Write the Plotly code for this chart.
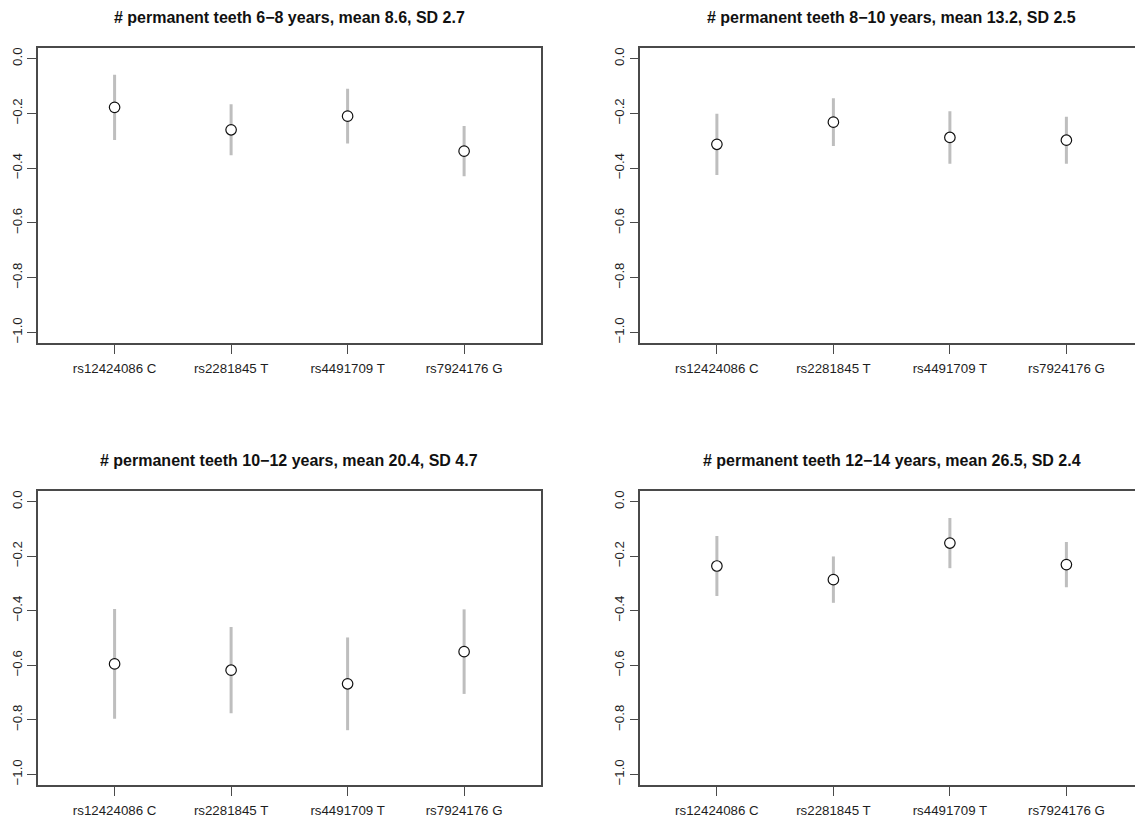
import plotly.graph_objects as go

# ---- data ----
snps = ["rs12424086 C", "rs2281845 T", "rs4491709 T", "rs7924176 G"]
snp_pos = [1, 2, 3, 4]

titles = [
    "# permanent teeth 6\u22128 years, mean 8.6, SD 2.7",
    "# permanent teeth 8\u221210 years, mean 13.2, SD 2.5",
    "# permanent teeth 10\u221212 years, mean 20.4, SD 4.7",
    "# permanent teeth 12\u221214 years, mean 26.5, SD 2.4",
]

est_6_8 = [-0.178, -0.260, -0.210, -0.338]
ci_6_8 = [0.119, 0.093, 0.100, 0.092]

est_8_10 = [-0.313, -0.232, -0.288, -0.298]
ci_8_10 = [0.112, 0.087, 0.096, 0.086]

est_10_12 = [-0.595, -0.618, -0.668, -0.550]
ci_10_12 = [0.201, 0.158, 0.170, 0.155]

est_12_14 = [-0.236, -0.286, -0.152, -0.231]
ci_12_14 = [0.110, 0.085, 0.092, 0.083]

y_ticks = [-1.0, -0.8, -0.6, -0.4, -0.2, 0.0]
y_tick_text = ["\u22121.0", "\u22120.8", "\u22120.6", "\u22120.4", "\u22120.2", "0.0"]

# ---- layout geometry (pixels) ----
W, H = 1135, 822
left_px = (37.7, 541.0)
right_px = (640.0, 1135.0)
top_px = (47.7, 343.3)
bot_px = (490.7, 785.3)

def xd(p):
    return [p[0] / W, p[1] / W]

def yd(p):
    return [1 - p[1] / H, 1 - p[0] / H]

panels = [
    (est_6_8, ci_6_8, left_px, top_px, [0.34, 4.66], True),
    (est_8_10, ci_8_10, right_px, top_px, [0.34, 0.34 + (right_px[1] - right_px[0]) / 116.5], False),
    (est_10_12, ci_10_12, left_px, bot_px, [0.34, 4.66], True),
    (est_12_14, ci_12_14, right_px, bot_px, [0.34, 0.34 + (right_px[1] - right_px[0]) / 116.5], False),
]

fig = go.Figure()
line_col = "#4a4a4a"
tick_font = dict(family="Liberation Sans, Arial, sans-serif", size=13.3, color="#1e1e1e")

layout_axes = {}
annotations = []
for i, (est, ci, xp, yp, xr, mirror_y) in enumerate(panels, start=1):
    xa = "x" if i == 1 else f"x{i}"
    ya = "y" if i == 1 else f"y{i}"
    fig.add_trace(go.Scatter(
        x=snp_pos, y=est, xaxis=xa, yaxis=ya, mode="markers",
        marker=dict(symbol="circle", size=10.5, color="white",
                    line=dict(color="#111111", width=1.2)),
        error_y=dict(type="data", array=ci, symmetric=True,
                     color="#bebebe", thickness=3, width=0),
        showlegend=False, hoverinfo="skip",
    ))
    layout_axes["xaxis" if i == 1 else f"xaxis{i}"] = dict(
        domain=xd(xp), range=xr, anchor=ya,
        tickvals=snp_pos, ticktext=snps, ticks="outside", ticklen=9,
        tickcolor=line_col, tickwidth=1.2, ticklabelstandoff=3,
        showline=True, linecolor=line_col, linewidth=1.5, mirror=True,
        showgrid=False, zeroline=False, tickfont=tick_font, fixedrange=True,
    )
    layout_axes["yaxis" if i == 1 else f"yaxis{i}"] = dict(
        domain=yd(yp), range=[-1.04, 0.04], anchor=xa,
        tickvals=y_ticks, ticktext=y_tick_text, tickangle=-90,
        ticks="outside", ticklen=8.5, tickcolor=line_col, tickwidth=1.2,
        showline=True, linecolor=line_col, linewidth=1.5, mirror=mirror_y,
        showgrid=False, zeroline=False, tickfont=tick_font, fixedrange=True,
    )
    # title centred over the (possibly clipped) R plot box
    cx = (xp[0] + xp[0] + 503.3) / 2
    cy = yp[0] - 29.8
    annotations.append(dict(
        text=titles[i - 1], xref="paper", yref="paper",
        x=cx / W, y=1 - cy / H, xanchor="center", yanchor="middle",
        showarrow=False,
        font=dict(family="Liberation Sans, Arial, sans-serif", size=16,
                  color="#111111", weight="bold"),
    ))

fig.update_layout(
    width=W, height=H, margin=dict(l=0, r=0, t=0, b=0),
    paper_bgcolor="white", plot_bgcolor="white",
    annotations=annotations, showlegend=False,
    **layout_axes,
)

fig.write_html("out.html")
